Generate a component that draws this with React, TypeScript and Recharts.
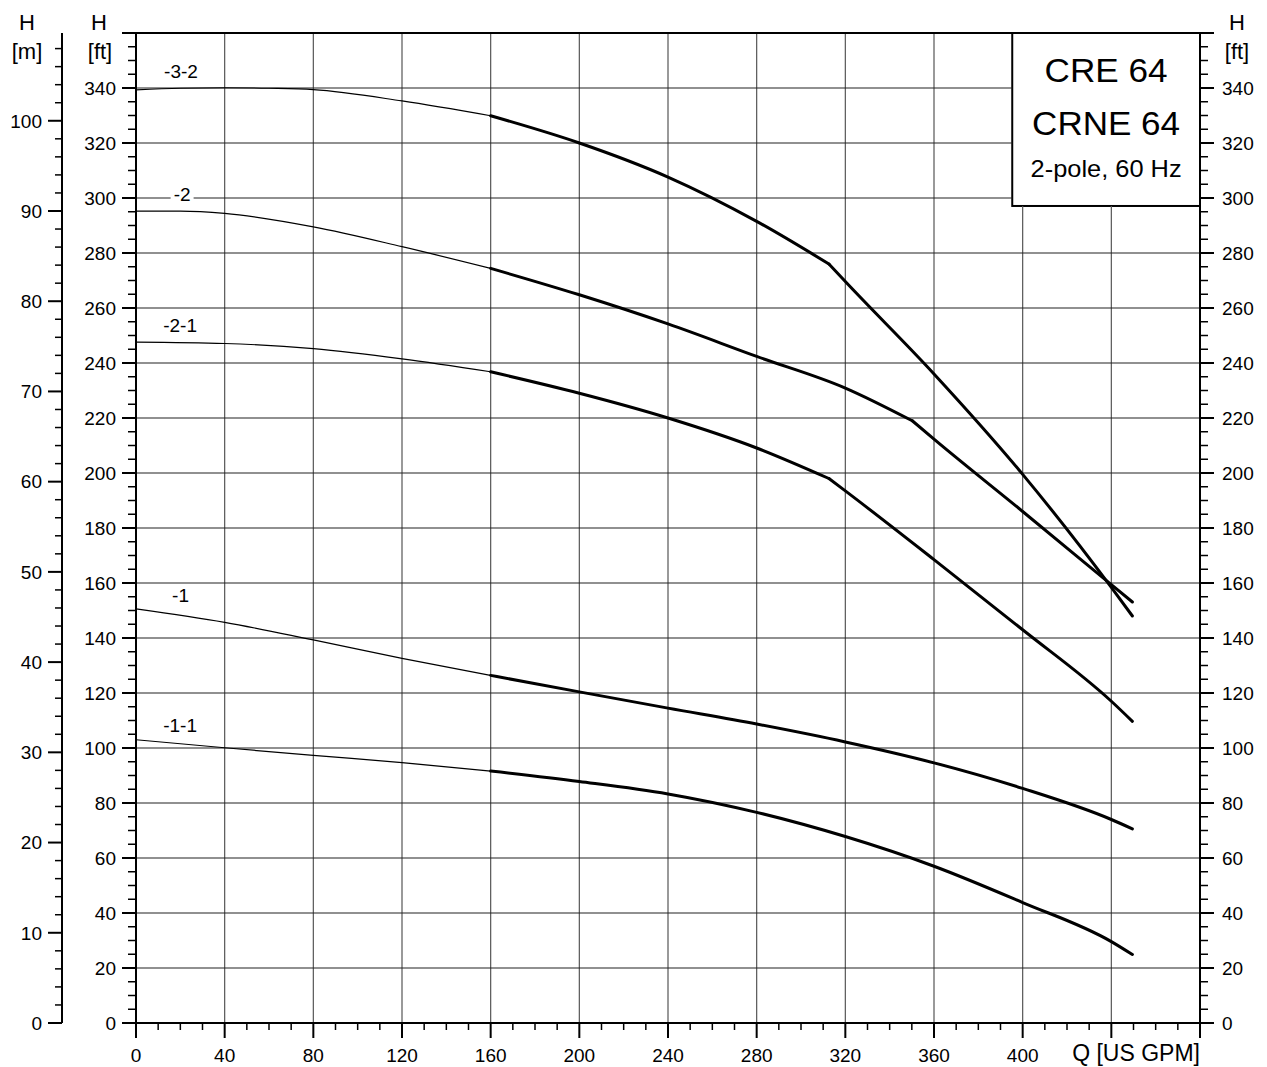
import React from 'react';
import { ComposedChart, Line, XAxis, YAxis, ReferenceLine, ReferenceArea, ReferenceDot } from 'recharts';

const FONT = '"Liberation Sans", Arial, Helvetica, sans-serif';

// Flow Q [US GPM] and head H [ft] for each impeller variant
const Q_3_2 = [0, 20, 40, 60, 80, 120, 160, 200, 240, 280, 312.6, 320, 360, 400, 440, 449.5];
const H_3_2 = [339.3, 339.9, 340.1, 339.9, 339.4, 335.3, 329.9, 320, 307.6, 291.5, 276, 269.6, 236, 199.5, 158.4, 148];

const Q_2 = [0, 20, 40, 80, 120, 160, 200, 240, 280, 320, 350.2, 360, 400, 440, 449.5];
const H_2 = [295.2, 295.2, 294.4, 289.5, 282.3, 274.4, 264.8, 254.2, 242.4, 230.9, 219, 212.3, 186, 159.4, 153.1];

const Q_2_1 = [0, 40, 80, 120, 160, 200, 240, 280, 312.6, 320, 360, 400, 440, 449.5];
const H_2_1 = [247.6, 247.1, 245.2, 241.5, 236.8, 229, 220, 209.1, 198, 193.5, 168.5, 143, 117, 109.7];

const Q_1 = [0, 40, 80, 120, 160, 200, 240, 280, 320, 360, 400, 440, 449.5];
const H_1 = [150.6, 145.7, 139.3, 132.6, 126.4, 120.4, 114.5, 108.7, 102.2, 94.6, 85.3, 74, 70.6];

const Q_1_1 = [0, 40, 80, 120, 160, 200, 240, 280, 320, 360, 400, 440, 449.5];
const H_1_1 = [103, 100.1, 97.3, 94.7, 91.6, 87.8, 83.3, 76.6, 67.8, 57, 43.8, 29.6, 24.9];

const CURVE_NAMES = ['-3-2', '-2', '-2-1', '-1', '-1-1'];
const CURVE_Q = [Q_3_2, Q_2, Q_2_1, Q_1, Q_1_1];
const CURVE_H = [H_3_2, H_2, H_2_1, H_1, H_1_1];
const CURVE_KINK_Q = [312.6, 350.2, 312.6, 449.5, 449.5];
const LABEL_Q = [20.3, 20.8, 19.9, 20.1, 19.9];
const LABEL_H = [346.2, 301.3, 253.7, 155.5, 108.4];

const RATED_START_Q = 160;

const Q_DOMAIN: [number, number] = [0, 480];
const FT_DOMAIN: [number, number] = [0, 360];
const FT_PER_M = 3.28084;
const M_DOMAIN: [number, number] = [0, 360 / FT_PER_M];

const Q_TICKS = Array.from({ length: 49 }, (_, i) => i * 10);
const FT_TICKS = Array.from({ length: 73 }, (_, i) => i * 5);
const M_TICKS = Array.from({ length: 55 }, (_, i) => i * 2);
const Q_GRID = [40, 80, 120, 160, 200, 240, 280, 320, 360, 400, 440];
const FT_GRID = [20, 40, 60, 80, 100, 120, 140, 160, 180, 200, 220, 240, 260, 280, 300, 320, 340];

const TITLE_LINES = ['CRE 64', 'CRNE 64', '2-pole, 60 Hz'];
const BOX_Q0 = 395.3;
const BOX_H0 = 297.1;

const toPts = (q: number[], h: number[]) => q.map((x, i) => ({ q: x, h: h[i] }));

const txt = (x: number, y: number, s: string, size: number, anchor: string = 'middle') => (
  <text x={x} y={y} fontSize={size} fontFamily={FONT} fill="#000" textAnchor={anchor as any}>{s}</text>
);

const LeftFtTick = (props: any) => {
  const { x, y, payload } = props;
  const v = payload.value;
  const major = v % 20 === 0;
  return (
    <g>
      <line x1={x - (major ? 14 : 8)} x2={x} y1={y} y2={y} stroke="#000" strokeWidth={major ? 2 : 1.5} />
      {major && v < 360 && txt(x - 20, y + 6.8, String(v), 19, 'end')}
      {v === 360 && (
        <g>
          {txt(x - 109, y - 3, 'H', 22)}
          {txt(x - 109, y + 26, '[m]', 22)}
          {txt(x - 37, y - 3, 'H', 22)}
          {txt(x - 36, y + 26, '[ft]', 22)}
        </g>
      )}
    </g>
  );
};

const RightFtTick = (props: any) => {
  const { x, y, payload } = props;
  const v = payload.value;
  const major = v % 20 === 0;
  return (
    <g>
      <line x1={x} x2={x + (major ? 14 : 8)} y1={y} y2={y} stroke="#000" strokeWidth={major ? 2 : 1.5} />
      {major && v < 360 && txt(x + 22, y + 6.8, String(v), 19, 'start')}
      {v === 360 && (
        <g>
          {txt(x + 37, y - 3, 'H', 22)}
          {txt(x + 37, y + 26, '[ft]', 22)}
        </g>
      )}
    </g>
  );
};

const MTick = (props: any) => {
  const { x, y, payload } = props;
  const v = payload.value;
  const major = v % 10 === 0;
  return (
    <g>
      <line x1={x - (major ? 14 : 7)} x2={x} y1={y} y2={y} stroke="#000" strokeWidth={major ? 2 : 1.5} />
      {major && txt(x - 20, y + 6.8, String(v), 19, 'end')}
    </g>
  );
};

const QTick = (props: any) => {
  const { x, y, payload } = props;
  const v = payload.value;
  const major = v % 40 === 0;
  return (
    <g>
      <line x1={x} x2={x} y1={y} y2={y + (major ? 15 : 7)} stroke="#000" strokeWidth={major ? 2 : 1.5} />
      {major && v <= 400 && txt(x, y + 39, String(v), 19)}
      {v === 480 && txt(x, y + 38, 'Q [US GPM]', 23, 'end')}
    </g>
  );
};

const TitleBox = (props: any) => {
  const { x, y, width, height } = props;
  const cx = x + width / 2;
  return (
    <g>
      <rect x={x} y={y} width={width} height={height} fill="#fff" stroke="#000" strokeWidth={2} />
      <text x={cx} y={y + 49} fontSize={33} fontFamily={FONT} textAnchor="middle" textLength={123} lengthAdjust="spacingAndGlyphs">{TITLE_LINES[0]}</text>
      <text x={cx} y={y + 102} fontSize={33} fontFamily={FONT} textAnchor="middle" textLength={148} lengthAdjust="spacingAndGlyphs">{TITLE_LINES[1]}</text>
      <text x={cx} y={y + 144} fontSize={24} fontFamily={FONT} textAnchor="middle" textLength={151} lengthAdjust="spacingAndGlyphs">{TITLE_LINES[2]}</text>
    </g>
  );
};

const CurveLabel = (name: string) => (p: any) => {
  const w = name.length * 9.5 + 4;
  return (
    <g>
      <rect x={p.cx - w / 2} y={p.cy - 9} width={w} height={18} fill="#fff" />
      {txt(p.cx, p.cy + 6.8, name, 19)}
    </g>
  );
};

const seg = (key: string, data: { q: number; h: number }[], width: number) => (
  <Line
    key={key}
    yAxisId="ft"
    data={data}
    dataKey="h"
    type="monotone"
    stroke="#000"
    strokeWidth={width}
    strokeLinejoin="round"
    strokeLinecap="round"
    dot={false}
    activeDot={false}
    isAnimationActive={false}
  />
);

export default function App() {
  return (
    <div style={{ position: 'absolute', left: 0, top: 0, width: 1267, height: 1067, background: '#fff' }}>
      <ComposedChart width={1267} height={1067} margin={{ top: 33, right: 0, bottom: 0, left: 0 }}>
        <XAxis
          type="number"
          dataKey="q"
          domain={Q_DOMAIN}
          ticks={Q_TICKS}
          interval={0}
          height={44}
          tickSize={0}
          tickMargin={0}
          tickLine={false}
          axisLine={{ stroke: '#000', strokeWidth: 2 }}
          tick={(p: any) => <QTick {...p} />}
          allowDataOverflow
        />
        <YAxis
          yAxisId="ft"
          orientation="left"
          type="number"
          domain={FT_DOMAIN}
          ticks={FT_TICKS}
          interval={0}
          width={74}
          tickSize={0}
          tickMargin={0}
          tickLine={false}
          axisLine={{ stroke: '#000', strokeWidth: 2 }}
          tick={(p: any) => <LeftFtTick {...p} />}
          allowDataOverflow
        />
        <YAxis
          yAxisId="m"
          orientation="left"
          type="number"
          domain={M_DOMAIN}
          ticks={M_TICKS}
          interval={0}
          width={62}
          tickSize={0}
          tickMargin={0}
          tickLine={false}
          axisLine={{ stroke: '#000', strokeWidth: 2 }}
          tick={(p: any) => <MTick {...p} />}
          allowDataOverflow
        />
        <YAxis
          yAxisId="ftR"
          orientation="right"
          type="number"
          domain={FT_DOMAIN}
          ticks={FT_TICKS}
          interval={0}
          width={67}
          tickSize={0}
          tickMargin={0}
          tickLine={false}
          axisLine={{ stroke: '#000', strokeWidth: 2 }}
          tick={(p: any) => <RightFtTick {...p} />}
          allowDataOverflow
        />

        {Q_GRID.map((q) => (
          <ReferenceLine
            key={'v' + q}
            yAxisId="ft"
            segment={[{ x: q, y: 0 }, { x: q, y: q > BOX_Q0 ? BOX_H0 : 360 }]}
            stroke="#555"
            strokeWidth={1.2}
          />
        ))}
        {FT_GRID.map((h) => (
          <ReferenceLine
            key={'h' + h}
            yAxisId="ft"
            segment={[{ x: 0, y: h }, { x: h > BOX_H0 ? BOX_Q0 : 480, y: h }]}
            stroke="#222"
            strokeWidth={1.1}
          />
        ))}
        <ReferenceLine yAxisId="ft" y={360} stroke="#000" strokeWidth={2} />

        <ReferenceArea
          yAxisId="ft"
          x1={BOX_Q0}
          x2={480}
          y1={BOX_H0}
          y2={360}
          shape={(p: any) => <TitleBox {...p} />}
        />

        {CURVE_NAMES.map((name, i) => {
          const pts = toPts(CURVE_Q[i], CURVE_H[i]);
          const k = CURVE_KINK_Q[i];
          const out = [
            seg('thin' + name, pts.filter((p) => p.q <= RATED_START_Q), 1.2),
            seg('thickA' + name, pts.filter((p) => p.q >= RATED_START_Q && p.q <= k), 3),
          ];
          const rest = pts.filter((p) => p.q >= k);
          if (rest.length > 1) out.push(seg('thickB' + name, rest, 3));
          return out;
        })}

        {CURVE_NAMES.map((name, i) => (
          <ReferenceDot
            key={'lbl' + name}
            yAxisId="ft"
            x={LABEL_Q[i]}
            y={LABEL_H[i]}
            r={0}
            shape={CurveLabel(name)}
          />
        ))}
      </ComposedChart>
    </div>
  );
}
